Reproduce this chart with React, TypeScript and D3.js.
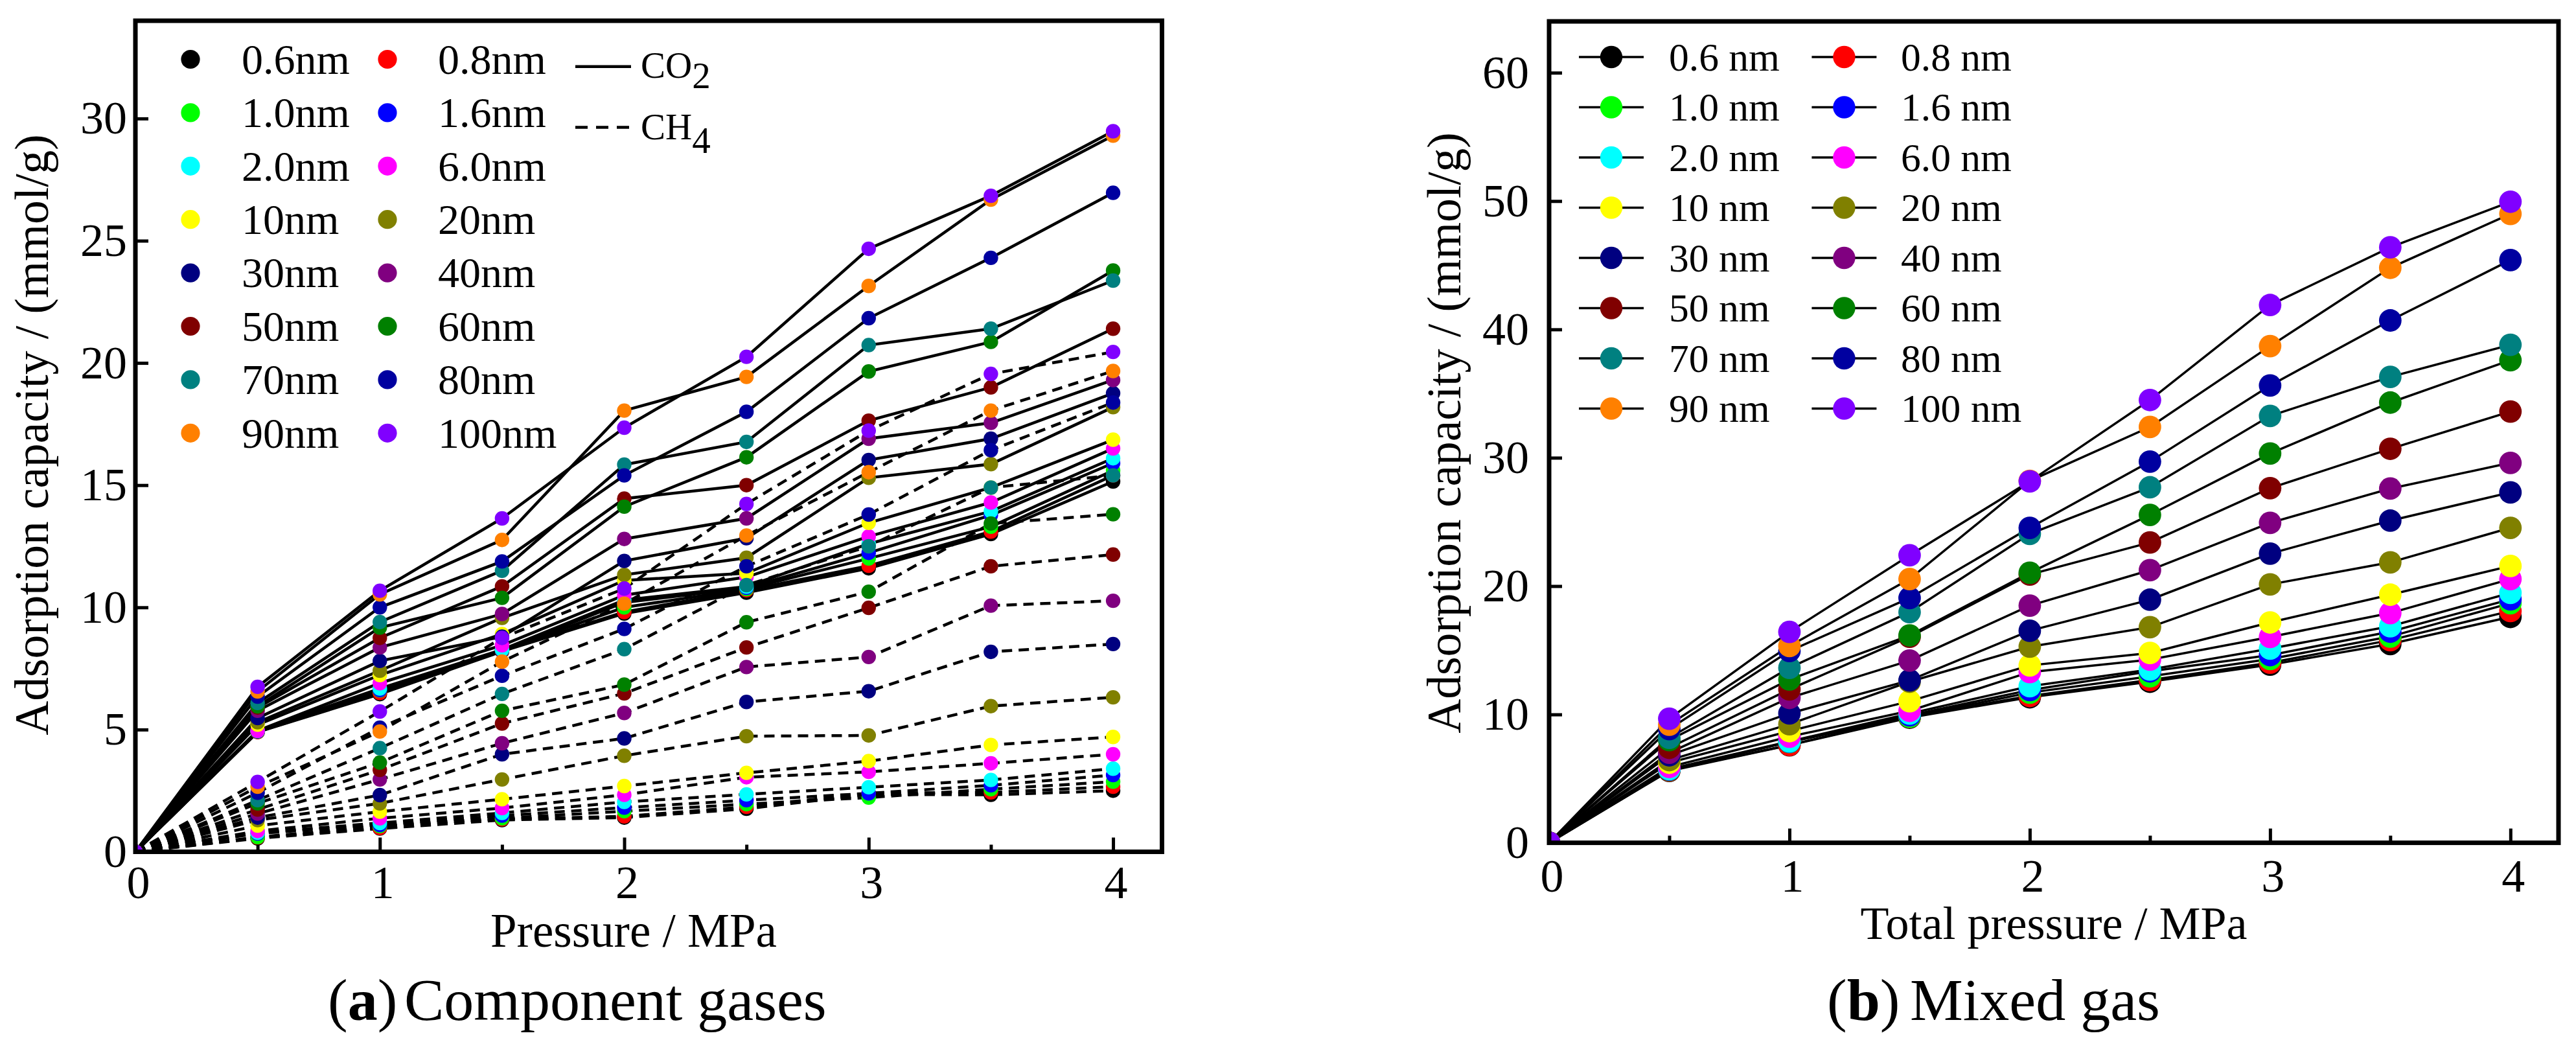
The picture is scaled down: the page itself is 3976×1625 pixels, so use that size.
// App.tsx
import { useEffect, useRef } from 'react';
import * as d3 from 'd3';

const pressures = [0, 0.5, 1, 1.5, 2, 2.5, 3, 3.5, 4];
const poreSizes = ['0.6', '0.8', '1.0', '1.6', '2.0', '6.0', '10', '20', '30', '40', '50', '60', '70', '80', '90', '100'];
const poreColors = [
	'#000000', '#ff0000', '#00ff00', '#0000ff', '#00ffff', '#ff00ff', '#ffff00', '#808000',
	'#000080', '#800080', '#800000', '#008000', '#008080', '#0000a0', '#ff8000', '#8000ff',
];

// adsorption capacity, one row per pore size, one column per pressure
const co2Component = [
	[0, 4.9, 6.45, 8.2, 9.75, 10.6, 11.6, 13.0, 15.15],
	[0, 4.9, 6.5, 8.22, 9.81, 10.7, 11.7, 13.1, 15.4],
	[0, 4.92, 6.6, 8.25, 10.0, 10.75, 12.0, 13.3, 15.6],
	[0, 4.93, 6.62, 8.25, 10.2, 10.8, 12.23, 13.77, 15.9],
	[0, 4.95, 6.68, 8.27, 10.3, 10.85, 12.6, 13.93, 16.1],
	[0, 4.95, 6.9, 8.45, 10.5, 11.24, 12.9, 14.29, 16.5],
	[0, 5.2, 7.23, 8.91, 11.1, 11.4, 13.46, 14.9, 16.86],
	[0, 5.3, 7.41, 9.57, 11.33, 12.03, 15.3, 15.86, 18.19],
	[0, 5.47, 7.81, 8.8, 11.9, 12.83, 16.03, 16.9, 18.76],
	[0, 5.77, 8.36, 9.73, 12.8, 13.64, 16.9, 17.55, 19.3],
	[0, 5.9, 8.75, 10.86, 14.45, 15.0, 17.64, 19.0, 21.4],
	[0, 5.95, 9.17, 10.39, 14.12, 16.14, 19.65, 20.86, 23.78],
	[0, 6.09, 9.4, 11.5, 15.84, 16.77, 20.73, 21.4, 23.37],
	[0, 6.35, 10.0, 11.88, 15.4, 18.0, 21.83, 24.3, 26.96],
	[0, 6.56, 10.53, 12.76, 18.05, 19.43, 23.15, 26.68, 29.3],
	[0, 6.75, 10.68, 13.64, 17.35, 20.25, 24.67, 26.84, 29.48],
];

const ch4Component = [
	[0, 0.55, 0.95, 1.3, 1.4, 1.76, 2.35, 2.33, 2.5],
	[0, 0.58, 0.97, 1.33, 1.45, 1.84, 2.4, 2.43, 2.66],
	[0, 0.6, 1.05, 1.37, 1.66, 1.95, 2.22, 2.56, 2.87],
	[0, 0.75, 1.1, 1.48, 1.81, 2.11, 2.39, 2.72, 3.14],
	[0, 0.78, 1.18, 1.59, 2.04, 2.35, 2.64, 2.94, 3.4],
	[0, 0.85, 1.37, 1.79, 2.33, 3.05, 3.27, 3.62, 3.99],
	[0, 1.07, 1.64, 2.15, 2.69, 3.23, 3.71, 4.37, 4.7],
	[0, 1.3, 1.98, 2.96, 3.93, 4.73, 4.76, 5.96, 6.32],
	[0, 1.4, 2.32, 3.99, 4.64, 6.13, 6.57, 8.18, 8.5],
	[0, 1.56, 2.96, 4.44, 5.68, 7.56, 7.97, 10.07, 10.27],
	[0, 1.73, 3.35, 5.25, 6.48, 8.36, 9.98, 11.68, 12.16],
	[0, 1.98, 3.65, 5.77, 6.84, 9.39, 10.64, 13.43, 13.81],
	[0, 2.11, 4.24, 6.46, 8.29, 10.91, 12.5, 14.9, 15.4],
	[0, 2.42, 5.08, 7.2, 9.12, 11.68, 13.8, 16.43, 18.38],
	[0, 2.66, 4.92, 7.78, 10.15, 12.94, 15.53, 18.05, 19.67],
	[0, 2.86, 5.74, 8.75, 10.77, 14.23, 17.23, 19.55, 20.45],
];

const mixedGas = [
	[0, 5.6, 7.6, 9.75, 11.34, 12.55, 13.88, 15.49, 17.6],
	[0, 5.64, 7.62, 9.8, 11.44, 12.68, 14.03, 15.79, 18.06],
	[0, 5.68, 7.85, 9.82, 11.7, 12.97, 14.32, 16.07, 18.67],
	[0, 5.7, 7.87, 9.93, 11.9, 13.36, 14.62, 16.45, 18.97],
	[0, 5.74, 7.9, 10.07, 12.2, 13.5, 15.13, 16.87, 19.47],
	[0, 5.91, 8.27, 10.28, 13.3, 14.27, 16.04, 17.9, 20.55],
	[0, 6.24, 8.7, 11.03, 13.82, 14.79, 17.17, 19.33, 21.57],
	[0, 6.44, 9.24, 12.55, 15.28, 16.8, 20.13, 21.85, 24.54],
	[0, 6.82, 10.08, 12.66, 16.52, 18.94, 22.53, 25.1, 27.3],
	[0, 7.02, 11.29, 14.2, 18.48, 21.24, 24.93, 27.6, 29.6],
	[0, 7.4, 11.95, 16.05, 20.9, 23.4, 27.63, 30.7, 33.6],
	[0, 8.0, 12.72, 16.16, 21.04, 25.55, 30.33, 34.3, 37.6],
	[0, 8.18, 13.63, 17.97, 24.07, 27.7, 33.26, 36.3, 38.8],
	[0, 8.86, 14.94, 19.07, 24.54, 29.7, 35.63, 40.7, 45.4],
	[0, 9.2, 15.33, 20.55, 28.2, 32.4, 38.7, 44.8, 49.0],
	[0, 9.67, 16.43, 22.4, 28.16, 34.5, 41.9, 46.4, 49.95],
];

const leftYTicks = [0, 5, 10, 15, 20, 25, 30];
const rightYTicks = [0, 10, 20, 30, 40, 50, 60];
const xTicks = [0, 1, 2, 3, 4];
const xMinorTicks = [0.5, 1.5, 2.5, 3.5];

const FONT = '"Liberation Serif", "Times New Roman", serif';
const DASH = '16 10';

type Selection = d3.Selection<SVGGElement, unknown, null, undefined>;

const drawAxes = (g: Selection, x: any, y: any, yTicks: number[], o: any) => {
	const [x0, x1] = x.range();
	const [yBottom, yTop] = y.range();

	const minor = g.append('g').attr('transform', `translate(0,${yBottom})`);
	minor.call(d3.axisBottom(x).tickValues(xMinorTicks).tickSize(-11).tickFormat(() => ''));

	const xAxis = g.append('g').attr('transform', `translate(0,${yBottom})`);
	xAxis.call(d3.axisBottom(x).tickValues(xTicks).tickSize(-22).tickFormat(d3.format('d')));
	xAxis.selectAll('text').attr('x', 4).attr('y', o.xTickDy).attr('dy', 0);

	const yAxis = g.append('g').attr('transform', `translate(${x0},0)`);
	yAxis.call(d3.axisLeft(y).tickValues(yTicks).tickSize(-20).tickFormat(d3.format('d')));
	yAxis.selectAll('text').attr('x', o.yTickDx).attr('dy', 0).attr('y', 23);

	[minor, xAxis, yAxis].forEach((a) => {
		a.attr('font-family', FONT).attr('font-size', 72);
		a.select('.domain').remove();
		a.selectAll('line').attr('stroke', '#000').attr('stroke-width', 5);
		a.selectAll('text').attr('fill', '#000');
	});

	g.append('rect')
		.attr('x', x0)
		.attr('y', yTop)
		.attr('width', x1 - x0)
		.attr('height', yBottom - yTop)
		.attr('fill', 'none')
		.attr('stroke', '#000')
		.attr('stroke-width', 7);
};

const drawSeries = (g: Selection, x: any, y: any, rows: number[][], clipId: string, o: any) => {
	const [x0, x1] = x.range();
	const [yBottom, yTop] = y.range();

	g.append('clipPath')
		.attr('id', clipId)
		.append('rect')
		.attr('x', x0)
		.attr('y', yTop)
		.attr('width', x1 - x0)
		.attr('height', yBottom - yTop);

	const plot = g.append('g').attr('clip-path', `url(#${clipId})`);
	const line = d3
		.line<number>()
		.x((_, i) => x(pressures[i]))
		.y((d) => y(d));

	plot.append('g')
		.selectAll('path')
		.data(rows)
		.enter()
		.append('path')
		.attr('d', (d) => line(d))
		.attr('fill', 'none')
		.attr('stroke', '#000')
		.attr('stroke-width', o.strokeWidth)
		.attr('stroke-dasharray', o.dash);

	return plot;
};

const drawMarkers = (plot: any, x: any, y: any, rows: number[][], r: number) => {
	rows.forEach((row, s) => {
		plot.append('g')
			.selectAll('circle')
			.data(row)
			.enter()
			.append('circle')
			.attr('cx', (_: number, i: number) => x(pressures[i]))
			.attr('cy', (d: number) => y(d))
			.attr('r', r)
			.attr('fill', poreColors[s]);
	});
};

const drawLegend = (g: Selection, o: any) => {
	poreSizes.forEach((size, i) => {
		const col = i % 2;
		const row = Math.floor(i / 2);
		const cy = o.top + row * o.step;
		const cx = o.markerX[col];
		if (o.keyHalf) {
			g.append('line')
				.attr('x1', cx - o.keyHalf)
				.attr('x2', cx + o.keyHalf)
				.attr('y1', cy)
				.attr('y2', cy)
				.attr('stroke', '#000')
				.attr('stroke-width', 3.5);
		}
		g.append('circle').attr('cx', cx).attr('cy', cy).attr('r', o.r).attr('fill', poreColors[i]);
		g.append('text')
			.attr('x', o.textX[col])
			.attr('y', cy + o.baseline)
			.attr('font-family', FONT)
			.attr('font-size', o.fontSize)
			.text(`${size}${o.unit}`);
	});
};

const drawText = (g: Selection, text: string, px: number, py: number, size: number, rotate = false) => {
	const t = g
		.append('text')
		.attr('font-family', FONT)
		.attr('font-size', size)
		.attr('text-anchor', 'middle')
		.text(text);
	if (rotate) t.attr('transform', `translate(${px},${py}) rotate(-90)`);
	else t.attr('x', px).attr('y', py);
};

const drawCaption = (g: Selection, letter: string, rest: string, xStart: number, xRest: number) => {
	const t = g
		.append('text')
		.attr('y', 1574)
		.attr('font-family', FONT)
		.attr('font-size', 92);
	t.append('tspan').attr('x', xStart).text('(');
	t.append('tspan').attr('font-weight', 'bold').text(letter);
	t.append('tspan').text(')');
	t.append('tspan').attr('x', xRest).text(rest);
};

const drawGasKey = (g: Selection, label: string, sub: string, y: number, textY: number, subY: number, dash?: string) => {
	g.append('line')
		.attr('x1', 888)
		.attr('x2', 974)
		.attr('y1', y)
		.attr('y2', y)
		.attr('stroke', '#000')
		.attr('stroke-width', 4.5)
		.attr('stroke-dasharray', dash ?? null);
	const t = g.append('text').attr('font-family', FONT).attr('font-size', 57);
	t.append('tspan').attr('x', 989).attr('y', textY).text(label);
	t.append('tspan').attr('y', subY).text(sub);
};

export default function App() {
	const svgRef = useRef<SVGSVGElement>(null);

	useEffect(() => {
		if (!svgRef.current) return;
		const svg = d3.select(svgRef.current);
		svg.selectAll('*').remove();

		// (a) component gases
		const left = svg.append('g') as unknown as Selection;
		const xLeft = d3.scaleLinear().domain([0, 4.2]).range([209, 1793.5]);
		const yLeft = d3.scaleLinear().domain([0, 34]).range([1314.5, 32]);

		const plotLeft = drawSeries(left, xLeft, yLeft, co2Component, 'clip-a', { strokeWidth: 4.5 });
		plotLeft
			.append('g')
			.selectAll('path')
			.data(ch4Component)
			.enter()
			.append('path')
			.attr('d', d3.line<number>().x((_, i) => xLeft(pressures[i])).y((d) => yLeft(d)))
			.attr('fill', 'none')
			.attr('stroke', '#000')
			.attr('stroke-width', 4.5)
			.attr('stroke-dasharray', DASH);
		drawMarkers(plotLeft, xLeft, yLeft, co2Component, 11.2);
		drawMarkers(plotLeft, xLeft, yLeft, ch4Component, 11.2);
		drawAxes(left, xLeft, yLeft, leftYTicks, { xTickDy: 71.5, yTickDx: -13 });

		drawLegend(left, {
			top: 91.5,
			step: 82.4,
			markerX: [294, 598],
			textX: [373, 676],
			r: 14.6,
			baseline: 22.3,
			fontSize: 66,
			unit: 'nm',
		});
		drawGasKey(left, 'CO', '2', 102.7, 120, 136);
		drawGasKey(left, 'CH', '4', 196.4, 215, 236, '19 13');

		drawText(left, 'Adsorption capacity / (mmol/g)', 74, 671, 73.4, true);
		drawText(left, 'Pressure / MPa', 978, 1460.7, 73);
		drawCaption(left, 'a', 'Component gases', 506, 624);

		// (b) mixed gas
		const right = svg.append('g') as unknown as Selection;
		const xRight = d3.scaleLinear().domain([0, 4.2]).range([2391, 3949]);
		const yRight = d3.scaleLinear().domain([0, 64]).range([1300.6, 33]);

		const plotRight = drawSeries(right, xRight, yRight, mixedGas, 'clip-b', { strokeWidth: 3.5 });
		drawMarkers(plotRight, xRight, yRight, mixedGas, 17.4);
		drawAxes(right, xRight, yRight, rightYTicks, { xTickDy: 75.5, yTickDx: -31 });

		drawLegend(right, {
			top: 88,
			step: 77.5,
			markerX: [2487, 2846.4],
			textX: [2576, 2934],
			r: 17.2,
			keyHalf: 50,
			baseline: 20.5,
			fontSize: 61.5,
			unit: ' nm',
		});

		drawText(right, 'Adsorption capacity / (mmol/g)', 2254, 668, 73.4, true);
		drawText(right, 'Total pressure / MPa', 3170, 1449, 72);
		drawCaption(right, 'b', 'Mixed gas', 2820, 2948);
	}, []);

	return (
		<svg
			ref={svgRef}
			width={3976}
			height={1625}
			style={{ position: 'absolute', left: 0, top: 0, background: '#fff' }}
		/>
	);
}
